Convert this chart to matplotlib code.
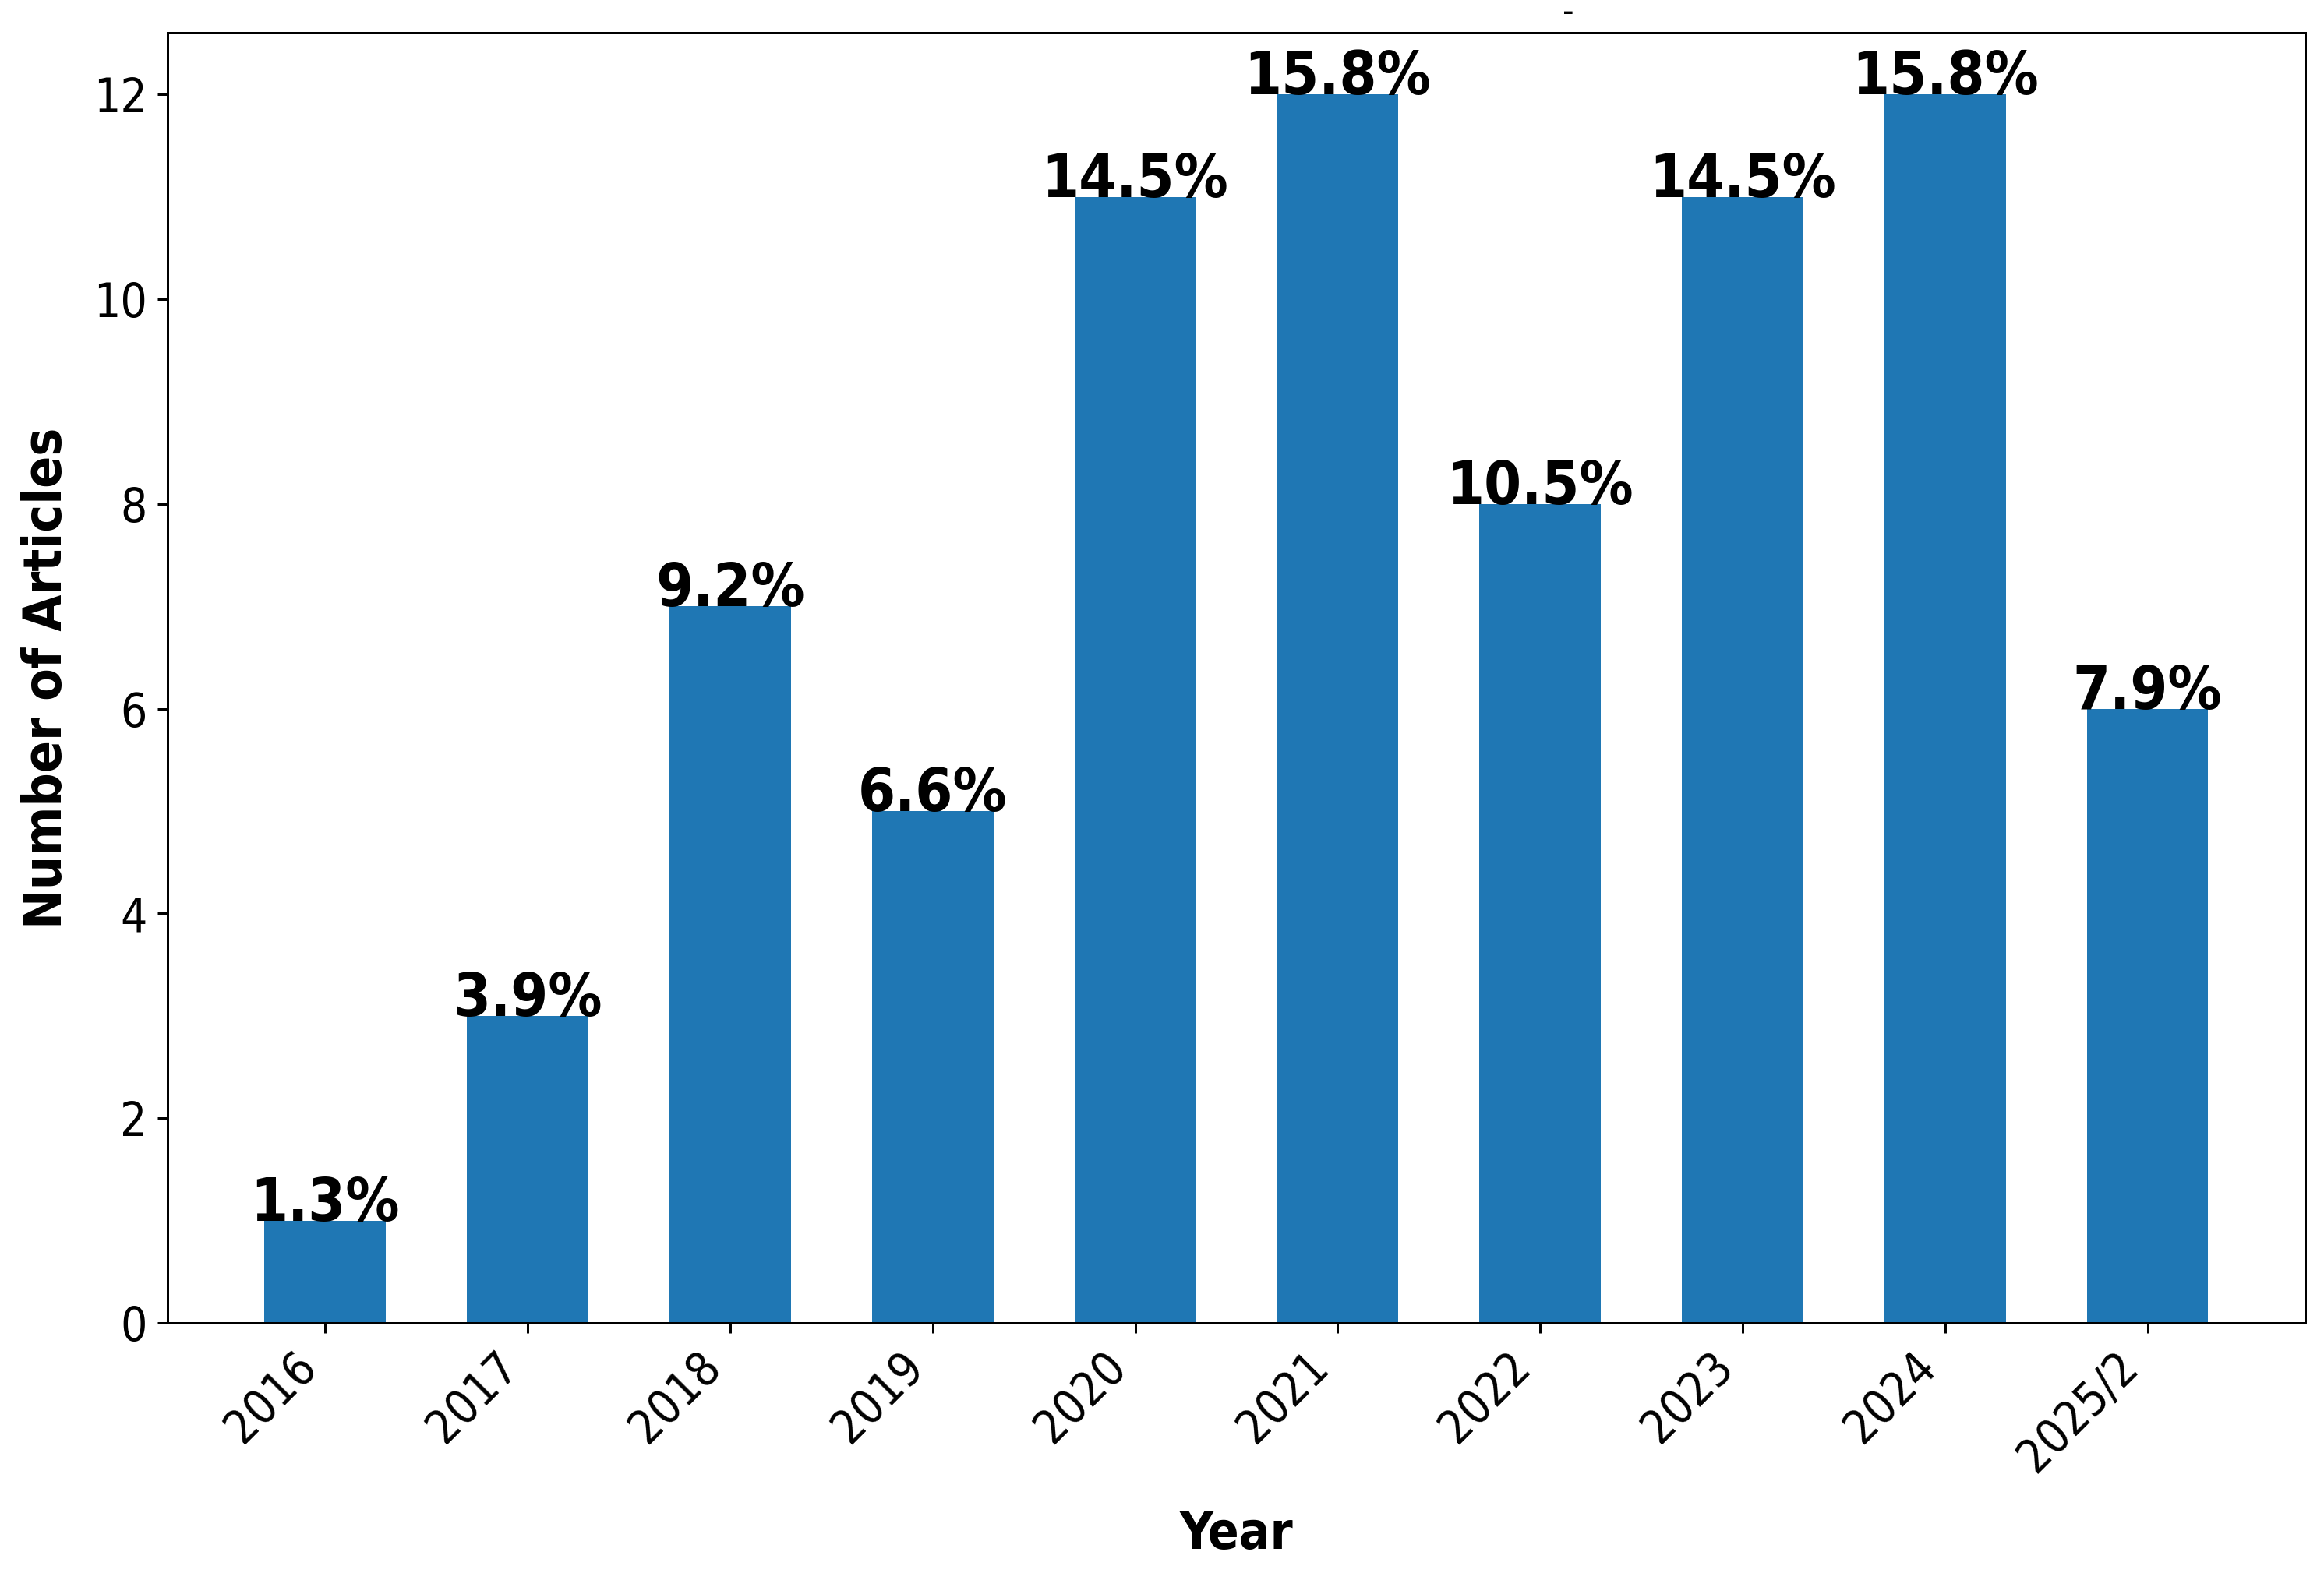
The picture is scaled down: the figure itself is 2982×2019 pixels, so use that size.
import numpy as np
import matplotlib
matplotlib.use("Agg")
import matplotlib.pyplot as plt

years = ["2016", "2017", "2018", "2019", "2020", "2021", "2022", "2023", "2024", "2025/2"]
counts = [1, 3, 7, 5, 11, 12, 8, 11, 12, 6]

total = sum(counts)
pct = [100.0 * c / total for c in counts]

# the reference looks vertically stretched, condensed DejaVu mimics that
plt.rcParams["font.stretch"] = "condensed"

fig = plt.figure(figsize=(2982 / 270, 2019 / 270), dpi=270)
ax = fig.add_axes([0.072, 0.159, 0.920, 0.820])

x = np.arange(len(years))
bars = ax.bar(x, counts, width=0.6, color="#1f77b4")

for b, p in zip(bars, pct):
    ax.text(b.get_x() + b.get_width() / 2, b.get_height(), f"{p:.1f}%",
            ha="center", va="baseline", fontsize=20.5, fontweight="bold")

ax.set_xticks(x)
ax.set_xticklabels(years, rotation=45, ha="right")
ax.tick_params(labelsize=16)
ax.set_xlabel("Year", fontsize=17.5, fontweight="bold", labelpad=10)
ax.set_ylabel("Number of Articles", fontsize=18, fontweight="bold", labelpad=7)

fig.text(2012 / 2982, 1 - 16 / 2019, "-", ha="center", va="center", fontsize=12)

fig.savefig("out.png", dpi=270)
